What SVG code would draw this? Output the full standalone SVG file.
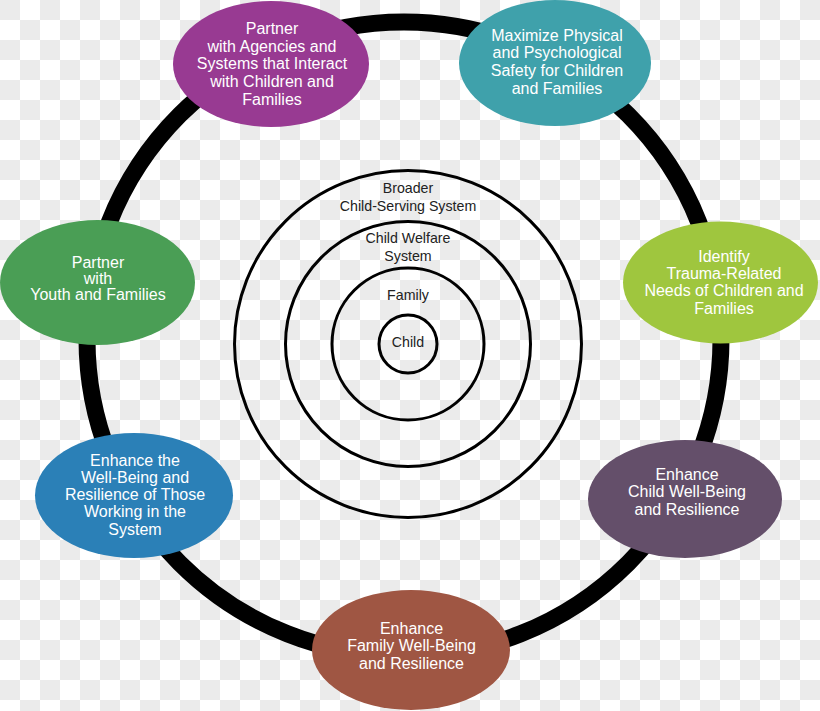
<svg xmlns="http://www.w3.org/2000/svg" width="820" height="711" viewBox="0 0 820 711">
<defs>
<pattern id="checker" patternUnits="userSpaceOnUse" width="40" height="40">
<rect width="40" height="40" fill="#ffffff"/>
<rect x="0" y="0" width="20" height="20" fill="#ebebeb"/>
<rect x="20" y="20" width="20" height="20" fill="#ebebeb"/>
</pattern>
</defs>
<style>
.node text{font-family:"Liberation Sans",Arial,sans-serif;font-size:16px;fill:#ffffff;text-anchor:middle}
.ring{fill:none;stroke:#000000}
.lbl{font-family:"Liberation Sans",Arial,sans-serif;font-size:14.2px;fill:#222222;text-anchor:middle}
</style>
<rect width="820" height="711" fill="url(#checker)"/>
<g id="connectors">
<circle class="ring" cx="404" cy="339" r="317" stroke-width="17"/>
</g>
<g id="layers">
<circle class="ring" cx="408" cy="344" r="173.5" stroke-width="3"/>
<circle class="ring" cx="408" cy="344" r="122.5" stroke-width="3"/>
<circle class="ring" cx="408" cy="344" r="76" stroke-width="3"/>
<circle class="ring" cx="408" cy="344" r="29" stroke-width="3"/>
<text class="lbl" x="408" y="193">Broader</text>
<text class="lbl" x="408" y="211">Child-Serving System</text>
<text class="lbl" x="408" y="243">Child Welfare</text>
<text class="lbl" x="408" y="261">System</text>
<text class="lbl" x="408" y="300">Family</text>
<text class="lbl" x="408" y="347">Child</text>
</g>
<g id="node-agencies" class="node">
<ellipse cx="271" cy="64" rx="98" ry="63" fill="#983a92"/>
<text x="272" y="34">Partner</text>
<text x="272" y="51.7">with Agencies and</text>
<text x="272" y="69.4">Systems that Interact</text>
<text x="272" y="87.1">with Children and</text>
<text x="272" y="104.8">Families</text>
</g>
<g id="node-safety" class="node">
<ellipse cx="555" cy="63" rx="96" ry="63" fill="#3fa1ab"/>
<text x="557" y="40.5">Maximize Physical</text>
<text x="557" y="58.2">and Psychological</text>
<text x="557" y="75.9">Safety for Children</text>
<text x="557" y="93.6">and Families</text>
</g>
<g id="node-youth" class="node">
<ellipse cx="97.5" cy="282.5" rx="97.5" ry="62.5" fill="#4a9e55"/>
<text x="98" y="267.5">Partner</text>
<text x="98" y="283.7">with</text>
<text x="98" y="299.9">Youth and Families</text>
</g>
<g id="node-trauma" class="node">
<ellipse cx="720.5" cy="282.5" rx="97.5" ry="61" fill="#9fc63e"/>
<text x="724" y="261.5">Identify</text>
<text x="724" y="278.9">Trauma-Related</text>
<text x="724" y="296.3">Needs of Children and</text>
<text x="724" y="313.7">Families</text>
</g>
<g id="node-workforce" class="node">
<ellipse cx="134" cy="495.5" rx="99" ry="62.5" fill="#2b80b7"/>
<text x="135" y="465.5">Enhance the</text>
<text x="135" y="482.8">Well-Being and</text>
<text x="135" y="500.1">Resilience of Those</text>
<text x="135" y="517.4">Working in the</text>
<text x="135" y="534.7">System</text>
</g>
<g id="node-child" class="node">
<ellipse cx="685" cy="499" rx="97" ry="59" fill="#644f6a"/>
<text x="687" y="479.5">Enhance</text>
<text x="687" y="497">Child Well-Being</text>
<text x="687" y="514.5">and Resilience</text>
</g>
<g id="node-family" class="node">
<ellipse cx="411" cy="650" rx="99" ry="60" fill="#9f5643"/>
<text x="411.5" y="633.5">Enhance</text>
<text x="411.5" y="651">Family Well-Being</text>
<text x="411.5" y="668.5">and Resilience</text>
</g>
</svg>
